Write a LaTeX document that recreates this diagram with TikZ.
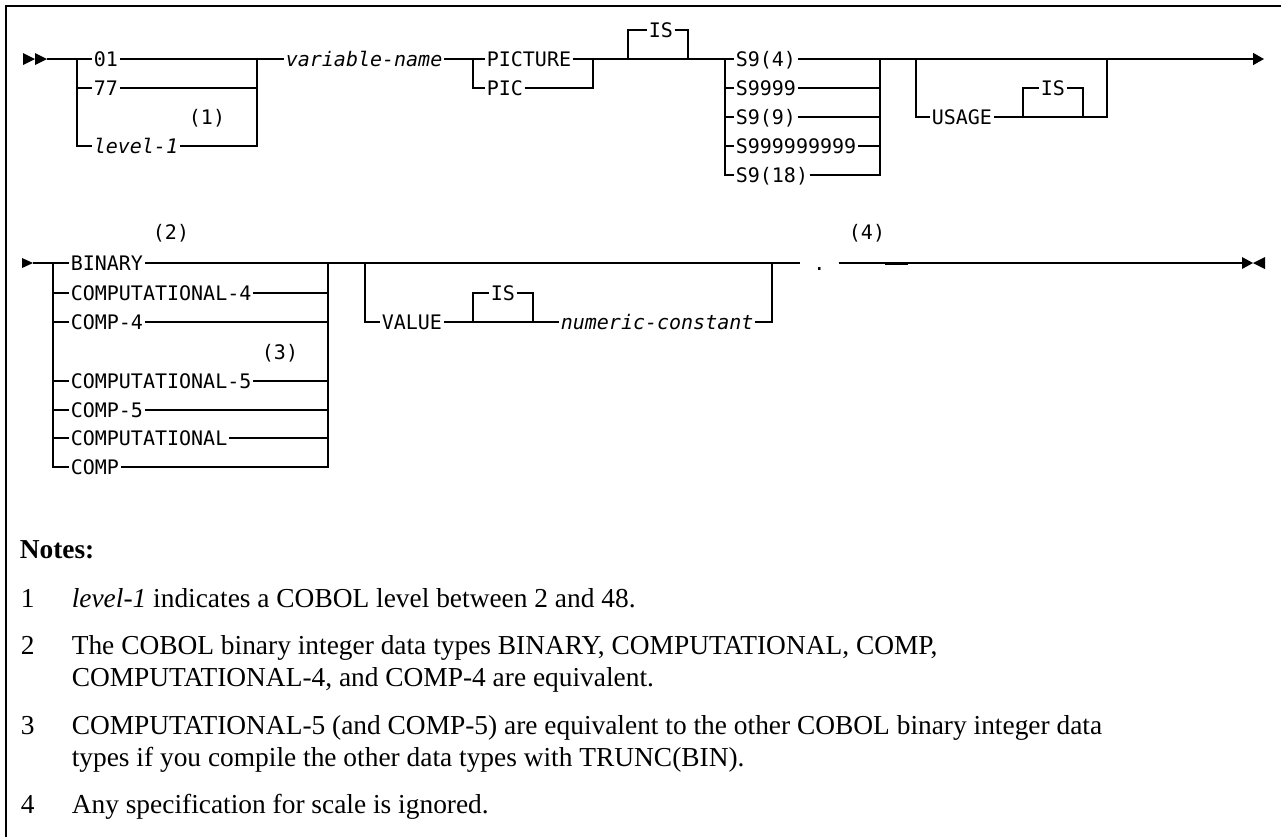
\documentclass[tikz,border=0pt]{standalone}
\usepackage{fontspec}
\setmainfont{Liberation Serif}
\setmonofont{DejaVu Sans Mono}
\usetikzlibrary{arrows.meta}
\newcommand{\synfont}{\ttfamily\fontsize{10}{12}\selectfont}
\newcommand{\notefont}{\rmfamily\fontsize{13.7}{16}\selectfont}

\begin{document}
\begin{tikzpicture}[x=0.5pt, y=-0.5pt, line width=0.8pt,
    kw/.style={font=\synfont, inner xsep=0.5pt, inner ysep=0pt,
      text height=7.3pt, text depth=0pt, anchor=west},
    fn/.style={font=\synfont, inner sep=0pt},
    note/.style={font=\notefont, inner sep=0pt, anchor=base west}]
    \useasboundingbox (0,0) rectangle (1281,837);
    % Frame
    \draw[line width=1pt] (6,837) -- (6,6) -- (1281,6);

    % First line: level number
    \fill (23,53) -- (35,59) -- (23,65) -- cycle;
    \fill (35,53) -- (47,59) -- (35,65) -- cycle;
    \coordinate (start1) at (47,59);
    \coordinate (lvA) at (77,59);
    \coordinate (lvB) at (257,59);
    \node[kw] (n01) at (92,59) {01};
    \node[kw] (n77) at (92,88) {77};
    \node[kw] (lev) at (92,146) {\itshape level-1};
    \node[fn] (f1) at (207,118) {(1)};
    \draw (start1) -- (n01.west);
    \draw (n01.east) -- (lvB);
    \draw (lvA) |- (lev.west);
    \draw (n77.west -| lvA) -- (n77.west);
    \draw (n77.east) -- (n77.east -| lvB);
    \draw (lev.east) -| (lvB);

    % Name and PICTURE
    \node[kw] (var) at (284,59) {\itshape variable-name};
    \coordinate (picA) at (473,59);
    \coordinate (picB) at (593,59);
    \node[kw] (pict) at (485,59) {PICTURE};
    \node[kw] (pic) at (485,88) {PIC};
    \draw (lvB) -- (var.west);
    \draw (var.east) -- (pict.west);
    \draw (picA) |- (pic.west);
    \draw (pict.east) -- (picB);
    \draw (pic.east) -| (picB);

    % Optional IS
    \coordinate (isA) at (628,59);
    \coordinate (isB) at (688,59);
    \node[kw] (is1) at (647,30) {IS};
    \coordinate (sA) at (725,59);
    \coordinate (sB) at (880,59);
    \draw (picB) -- (sA);
    \draw (isA) |- (is1.west);
    \draw (is1.east) -| (isB);

    % Picture strings
    \node[kw] (s4) at (734,59) {S9(4)};
    \node[kw] (s9999) at (734,88) {S9999};
    \node[kw] (s9) at (734,117) {S9(9)};
    \node[kw] (s999) at (734,146) {S999999999};
    \node[kw] (s18) at (734,175) {S9(18)};
    \draw (sA) -- (s4.west);
    \draw (s4.east) -- (sB);
    \draw (sA) |- (s18.west);
    \draw (s9999.west -| sA) -- (s9999.west);
    \draw (s9.west -| sA) -- (s9.west);
    \draw (s999.west -| sA) -- (s999.west);
    \draw (s9999.east) -- (s9999.east -| sB);
    \draw (s9.east) -- (s9.east -| sB);
    \draw (s999.east) -- (s999.east -| sB);
    \draw (s18.east) -| (sB);

    % Optional USAGE IS
    \coordinate (usA) at (916,59);
    \coordinate (usB) at (1107,59);
    \coordinate (is2A) at (1023,117);
    \coordinate (is2B) at (1083,117);
    \coordinate (end1) at (1264,59);
    \node[kw] (usage) at (930,117) {USAGE};
    \node[kw] (is2) at (1039,88) {IS};
    \draw (usA) |- (usage.west);
    \draw (usage.east) -- (is2A) -- (is2B) -| (usB);
    \draw (is2A) |- (is2.west);
    \draw (is2.east) -| (is2B);
    \draw[-{Triangle[length=5.5pt,width=6pt]}] (sB) -- (end1);

    % Second line: usage types
    \fill (22,258) -- (33,263) -- (22,268) -- cycle;
    \coordinate (start2) at (33,263);
    \coordinate (bnA) at (53,263);
    \coordinate (bnB) at (328,263);
    \node[kw] (binary) at (69,263) {BINARY};
    \node[kw] (comp4l) at (69,293) {COMPUTATIONAL-4};
    \node[kw] (comp4) at (69,322) {COMP-4};
    \node[kw] (comp5l) at (69,381) {COMPUTATIONAL-5};
    \node[kw] (comp5) at (69,410) {COMP-5};
    \node[kw] (compl) at (69,438) {COMPUTATIONAL};
    \node[kw] (comp) at (69,467) {COMP};
    \node[fn] (f2) at (171,233) {(2)};
    \node[fn] (f3) at (280,353) {(3)};
    \draw (start2) -- (binary.west);
    \draw (bnA) |- (comp.west);
    \draw (comp4l.west -| bnA) -- (comp4l.west);
    \draw (comp4.west -| bnA) -- (comp4.west);
    \draw (comp5l.west -| bnA) -- (comp5l.west);
    \draw (comp5.west -| bnA) -- (comp5.west);
    \draw (compl.west -| bnA) -- (compl.west);
    \draw (comp4l.east) -- (comp4l.east -| bnB);
    \draw (comp4.east) -- (comp4.east -| bnB);
    \draw (comp5l.east) -- (comp5l.east -| bnB);
    \draw (comp5.east) -- (comp5.east -| bnB);
    \draw (compl.east) -- (compl.east -| bnB);
    \draw (comp.east) -| (bnB);

    % Optional VALUE IS
    \coordinate (vaA) at (365,263);
    \coordinate (vaB) at (772,263);
    \coordinate (is3A) at (473,322);
    \coordinate (is3B) at (533,322);
    \node[kw] (value) at (380,322) {VALUE};
    \node[kw] (is3) at (489,293) {IS};
    \node[kw] (numc) at (559,322) {\itshape numeric-constant};
    \draw (vaA) |- (value.west);
    \draw (value.east) -- (is3A) -- (is3B) -- (numc.west);
    \draw (is3A) |- (is3.west);
    \draw (is3.east) -| (is3B);
    \draw (numc.east) -| (vaB);

    % Period and end
    \node[kw, inner xsep=6.25pt] (dot) at (800,263) {.};
    \node[fn] (f4) at (867,233) {(4)};
    \coordinate (end2) at (1242,263);
    \draw (binary.east) -- (dot.west);
    \draw (dot.east) -- (end2);
    \draw[line width=1.3pt] (885,264) -- (908,264);
    \fill (1242,257) -- (1253,263) -- (1242,269) -- cycle;
    \fill (1265,257) -- (1253,263) -- (1265,269) -- cycle;

    % Notes
    \node[note, font=\notefont\bfseries] (notes) at (19,558) {Notes:};
    \node[note] (k1) at (20,607) {1};
    \node[note] (t1) at (71,607) {\textit{level-1} indicates a COBOL level between 2 and 48.};
    \node[note] (k2) at (20,654) {2};
    \node[note] (t2a) at (71,654) {The COBOL binary integer data types BINARY, COMPUTATIONAL, COMP,};
    \node[note] (t2b) at (71,686) {COMPUTATIONAL-4, and COMP-4 are equivalent.};
    \node[note] (k3) at (20,734) {3};
    \node[note] (t3a) at (71,734) {COMPUTATIONAL-5 (and COMP-5) are equivalent to the other COBOL binary integer data};
    \node[note] (t3b) at (71,766) {types if you compile the other data types with TRUNC(BIN).};
    \node[note] (k4) at (20,813) {4};
    \node[note] (t4) at (71,813) {Any specification for scale is ignored.};
\end{tikzpicture}
\end{document}
